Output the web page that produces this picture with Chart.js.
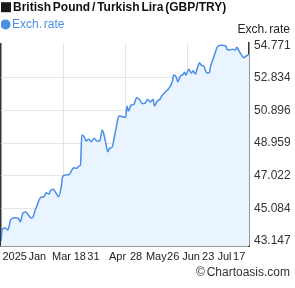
<!DOCTYPE html>
<html><head><meta charset="utf-8">
<script src="https://cdn.jsdelivr.net/npm/chart.js@4"></script>
<style>html,body{margin:0;padding:0;background:#fff;overflow:hidden}</style>
</head><body>
<canvas id="c" width="295" height="288"></canvas>
<script>
// ---- data ----
const titleText = 'British Pound / Turkish Lira (GBP/TRY)';
const seriesName = 'Exch. rate';
const axisTitle = 'Exch. rate';
const creditText = '© Chartoasis.com';
const startDate = '2025-01-17';           // day 0
const endDay = 181;                        // 2025-07-17
// day offsets from startDate
const days = [0,1,3,5,7,9,11,13,14,16,18,20,22,23,25,26,28,30,31,33,35,36,38,40,42,44,45,47,50,52,53,55,57,58,
  59,61,62,64,66,68,70,72,74,76,78,79,81,83,84,86,89,91,92,93,95,97,99,101,103,105,107,109,111,112,114,116,117,
  120,122,125,126,128,129,131,133,134,135,137,139,140,142,143,145,146,148,150,152,153,155,156,158,160,162,164,
  165,167,169,171,172,174,176,177,179,181];
// GBP/TRY exchange rate
const rates = [43.147,43.854,43.913,43.795,44.389,44.508,44.525,44.448,44.288,44.805,44.864,44.686,44.508,44.525,
  44.983,45.179,45.619,45.773,45.738,46.011,45.934,46.112,46.213,46.011,45.773,46.367,46.962,47.063,47.104,47.401,
  47.496,47.461,47.597,47.657,
  49.439,49.303,49.083,49.184,49.041,49.243,49.083,49.083,49.736,49.142,48.447,48.649,48.708,49.439,49.837,50.568,
  50.527,50.491,51.162,50.865,51.222,51.263,51.656,51.561,51.311,51.323,51.549,51.400,51.561,51.162,51.459,51.561,
  51.715,52.012,52.155,52.606,53.004,52.868,52.606,52.945,53.046,53.165,53.004,53.343,53.105,53.260,53.064,53.343,
  53.735,53.599,53.539,53.141,53.141,53.539,53.997,54.252,54.686,54.771,54.765,54.740,54.531,54.490,54.531,54.490,
  54.650,54.389,54.133,54.032,54.133,54.234];
const yTicks = [43.147,45.084,47.022,48.959,50.896,52.834,54.771];
const yMin = 42.844, yMax = 54.906;
// x-axis label words and the day each one is centred on
const xTickLabels = ['2025','Jan','Mar','18','31','Apr','28','May','26','Jun','23','Jul','17'];
const xTickDays = [10.0,26.49,44.15,57.51,67.44,85.03,98.53,113.34,125.68,138.67,151.22,163.12,173.85];
const xGridDays = [0,45.25,90.5,135.75,181];

// ---- chart ----
Chart.defaults.font.family = "'Liberation Sans', Arial, sans-serif";
Chart.defaults.font.size = 12;

const setSpacing = chart => { try { chart.ctx.wordSpacing = '-1.5px'; } catch (e) {} };
const textPlugin = {
  id: 'textExtras',
  beforeUpdate: setSpacing,
  beforeLayout: setSpacing,
  beforeDraw: setSpacing,
  afterDraw(chart) {
    const ctx = chart.ctx, ys = chart.scales.y, tb = chart.titleBlock;
    ctx.save();
    // title marker square
    ctx.fillStyle = '#1a1a1a';
    ctx.fillRect(tb.left, tb.top + 2.2, 10, 10);
    // y axis caption
    ctx.font = "12px 'Liberation Sans', Arial, sans-serif";
    ctx.fillStyle = '#222';
    ctx.textAlign = 'right';
    ctx.textBaseline = 'alphabetic';
    ctx.fillText(axisTitle, ys.right, chart.chartArea.top - 10.5);
    ctx.restore();
  }
};

new Chart(document.getElementById('c'), {
  type: 'line',
  data: {
    datasets: [{
      label: seriesName,
      data: days.map((d, i) => ({x: d, y: rates[i]})),
      xAxisID: 'x', yAxisID: 'y',
      borderColor: '#4a8ee6', borderWidth: 1.5,
      backgroundColor: '#eaf4fe', fill: 'start',
      pointRadius: 0, pointHoverRadius: 0, pointStyle: 'circle',
      pointBackgroundColor: '#4a90e2', pointBorderColor: '#4a90e2',
      cubicInterpolationMode: 'monotone'
    }]
  },
  options: {
    responsive: false, animation: false, devicePixelRatio: 1, events: [],
    layout: {padding: {left: 1, right: 5, top: 0, bottom: 0}},
    plugins: {
      title: {display: true, text: '\u2003' + titleText, align: 'start', color: '#111',
        font: {size: 12, weight: 'bold', lineHeight: 1.2}, padding: {top: 0, bottom: 0}},
      subtitle: {display: true, text: creditText, position: 'bottom', align: 'end', color: '#333',
        font: {size: 12, lineHeight: 1.2}, padding: {top: 0, bottom: 8.3}},
      legend: {display: true, position: 'top', align: 'start',
        labels: {usePointStyle: true, pointStyle: 'circle', boxWidth: 1, boxHeight: 6, padding: 4,
          color: '#4a90e2', font: {size: 12}}},
      tooltip: {enabled: false}
    },
    scales: {
      x: {
        type: 'linear', position: 'bottom', min: 0, max: endDay,
        afterBuildTicks: s => { s.ticks = xTickDays.map(v => ({value: v})); },
        afterFit: s => { s.height = 19.3; },
        ticks: {autoSkip: false, maxRotation: 0, minRotation: 0, align: 'center', padding: 0, color: '#222',
          font: {size: 11, lineHeight: 1.2}, callback: (v, i) => xTickLabels[i]},
        grid: {display: false, drawTicks: true, tickLength: 4.7},
        border: {display: true, color: '#333', width: 1.5}
      },
      xg: {
        type: 'linear', position: 'top', min: 0, max: endDay,
        afterBuildTicks: s => { s.ticks = xGridDays.map(v => ({value: v})); },
        afterFit: s => { s.height = 2.6; },
        ticks: {display: false},
        grid: {drawTicks: false,
          color: c => c.index === 0 ? '#333' : (c.index === xGridDays.length - 1 ? 'rgba(0,0,0,0)' : '#e6e6e6'),
          lineWidth: c => c.index === 0 ? 1.5 : 1},
        border: {display: false}
      },
      y: {
        type: 'linear', position: 'right', min: yMin, max: yMax,
        afterBuildTicks: s => { s.ticks = yTicks.map(v => ({value: v})); },
        afterFit: s => { s.width = 41; },
        ticks: {padding: 5, color: '#333', font: {size: 12}, callback: v => v.toFixed(3)},
        grid: {drawTicks: false,
          color: c => (c.tick && c.tick.value === yTicks[yTicks.length - 1]) ? 'rgba(0,0,0,0)' : '#e6e6e6'},
        border: {display: true, color: '#333', width: 1.5}
      }
    }
  },
  plugins: [textPlugin]
});
</script>
</body></html>
